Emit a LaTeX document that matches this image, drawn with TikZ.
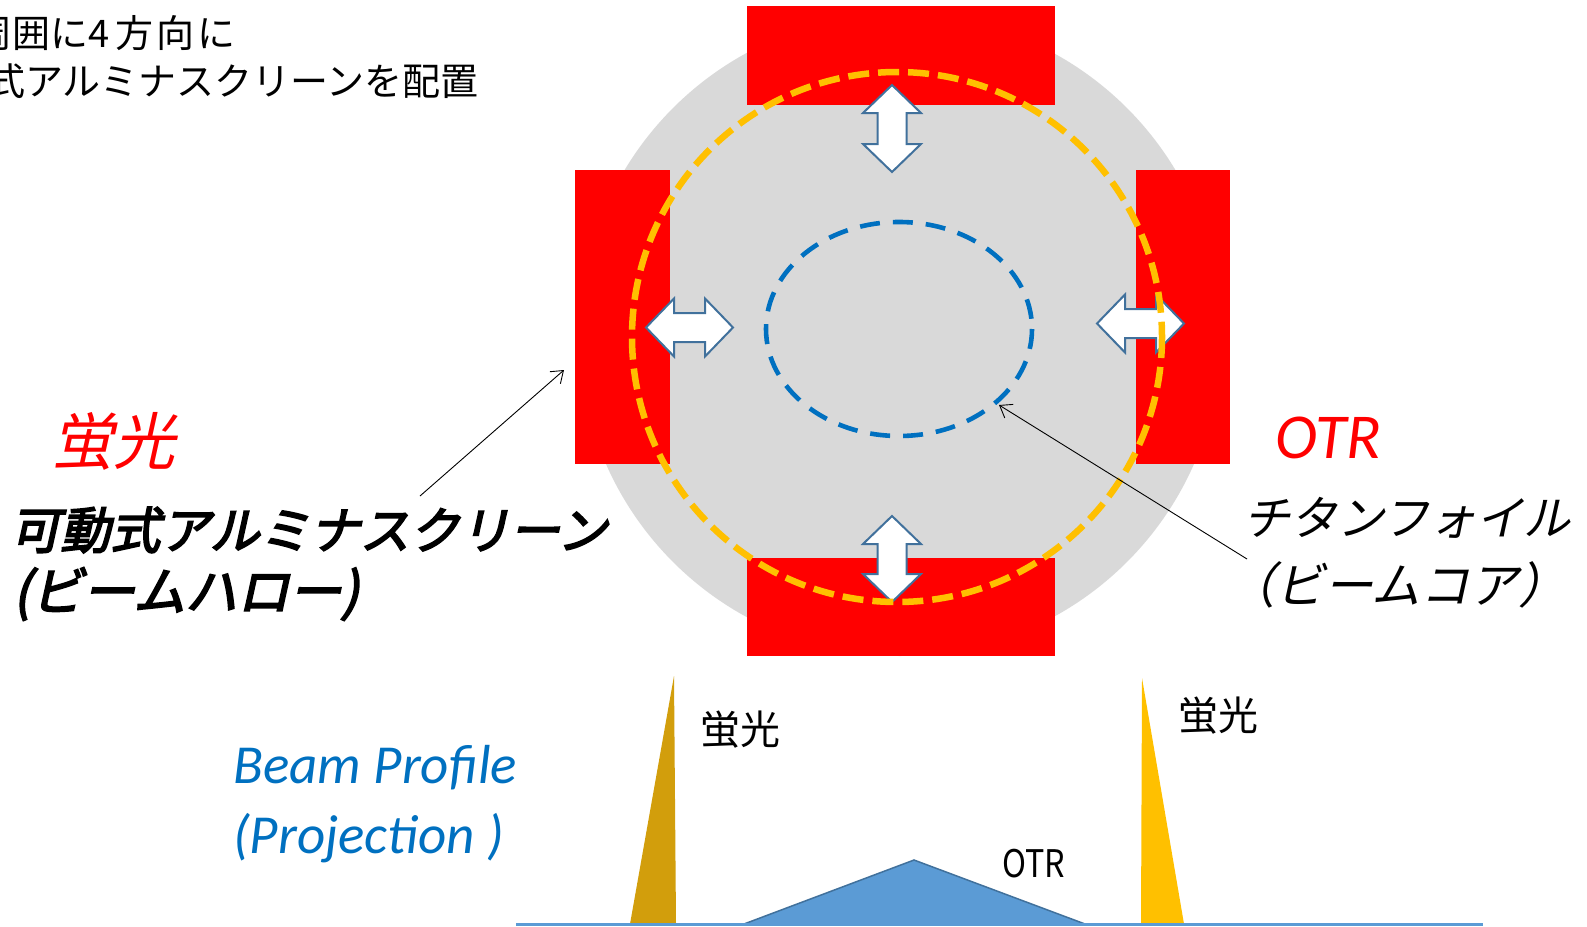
\documentclass[tikz,border=0pt]{standalone}
\usepackage{fontspec}
\newfontfamily\jp{Noto Sans CJK JP}
\newfontfamily\jpit{Noto Sans CJK JP}[FakeSlant=0.22]
\newfontfamily\jpbi{Noto Sans CJK JP}[FakeSlant=0.22,FakeBold=3.5]
\newfontfamily\calfont{Carlito}
\usetikzlibrary{arrows.meta}
\definecolor{scrred}{RGB}{255,0,0}
\definecolor{chamber}{RGB}{217,217,217}
\definecolor{halo}{RGB}{255,192,0}
\definecolor{core}{RGB}{0,112,192}
\definecolor{arrowedge}{RGB}{65,113,156}
\definecolor{profblue}{RGB}{91,155,213}
\definecolor{gold}{RGB}{210,158,12}
\newcommand\vmover[3]{%
  \draw[mover] (#1,#2) -- ++(29,28) -- ++(-14.5,0) -- (#1+14.5,#3-28) -- ++(14.5,0)
    -- (#1,#3) -- ++(-29,-28) -- ++(14.5,0) -- (#1-14.5,#2+28) -- ++(-14.5,0) -- cycle;}
\newcommand\hmover[3]{%
  \draw[mover] (#2,#1) -- ++(28,-29) -- ++(0,14.5) -- (#3-28,#1-14.5) -- ++(0,-14.5)
    -- (#3,#1) -- ++(-28,29) -- ++(0,-14.5) -- (#2+28,#1+14.5) -- ++(0,14.5) -- cycle;}
\begin{document}
\begin{tikzpicture}[x=1pt,y=-1pt,
  screen/.style={fill=scrred,draw=none},
  mover/.style={fill=white,draw=arrowedge,line width=2pt,line join=miter},
  callout/.style={draw=black,line width=0.9pt,-{Straight Barb[length=11pt,width=16pt,line width=0.9pt]}},
  lbl/.style={inner sep=0pt}]
\useasboundingbox (0,0) rectangle (1587,926);
\clip (0,0) rectangle (1587,926);
% chamber
\fill[chamber] (900,335) circle (321);
% screens
\fill[screen] (747,6) rectangle (1055,105);
\fill[screen] (575,170) rectangle (670,464);
\fill[screen] (1136,170) rectangle (1230,464);
\fill[screen] (747,558) rectangle (1055,656);
% movement arrows
\vmover{892}{85}{172}
\vmover{892}{516}{602}
\hmover{327.5}{646}{733}
\hmover{323.5}{1097}{1184}
% halo and core
\draw[halo,line width=6.5pt,dash pattern=on 21pt off 9pt] (897,337) circle (265);
\draw[core,line width=4.6pt,dash pattern=on 20pt off 13pt] (899,329) ellipse [x radius=133,y radius=107];
% callouts
\coordinate (haloTail) at (420,496);
\coordinate (haloTip) at (564,370);
\coordinate (coreTail) at (1247,559);
\coordinate (coreTip) at (999,405);
\draw[callout] (haloTail) -- (haloTip);
\draw[callout] (coreTail) -- (coreTip);
% top note
\node[lbl,anchor=east,font=\jp\fontsize{38}{42}\selectfont] (note1) at (236,33) {周囲に4\hspace{6pt}方\hspace{3pt}向\hspace{3pt}に};
\node[lbl,anchor=east,font=\jp\fontsize{38}{42}\selectfont] (note2) at (479,81) {式アルミナスクリーンを配置};
% left labels
\node[lbl,text=scrred,font=\jpit\fontsize{62}{66}\selectfont] (fluor) at (113,441) {蛍光};
\node[lbl,anchor=west,font=\jpbi\fontsize{50}{54}\selectfont] (screenA) at (10,530) {可動式アルミナスクリーン};
\node[lbl,anchor=west,font=\jpbi\fontsize{52}{56}\selectfont] (screenB) at (13,594) {(ビームハロー)};
% right labels
\node[lbl,anchor=west,text=scrred,font=\calfont\itshape\fontsize{64}{68}\selectfont] (otr) at (1275,438) {OTR};
\node[lbl,anchor=west,font=\jpit\fontsize{47}{51}\selectfont] (foilA) at (1243,518) {チタンフォイル};
\node[lbl,anchor=west,font=\jpit\fontsize{49}{53}\selectfont] (foilB) at (1226,585) {（ビームコア）};
% beam profile
\fill[gold] (630,924) -- (676,924) -- (674,676) -- cycle;
\fill[halo] (1141,924) -- (1184,924) -- (1142,678) -- cycle;
\draw[fill=profblue,draw=arrowedge,line width=1.5pt] (744,924) -- (914,860) -- (1085,924) -- cycle;
\draw[profblue,line width=3pt] (516,924) -- (1483,924);
\node[lbl,font=\jp\fontsize{40}{44}\selectfont] (pf1) at (740,730) {蛍光};
\node[lbl,font=\jp\fontsize{40}{44}\selectfont] (pf2) at (1218,716) {蛍光};
\node[lbl,font=\jp\fontsize{38}{40}\selectfont] (pf3) at (1034,864) {\scalebox{0.85}[1]{OTR}};
\node[lbl,anchor=west,text=core,font=\calfont\itshape\fontsize{55}{60}\selectfont,align=left] (bp) at (233,804) {Beam Profile\\[10pt](Projection )};
\end{tikzpicture}
\end{document}
